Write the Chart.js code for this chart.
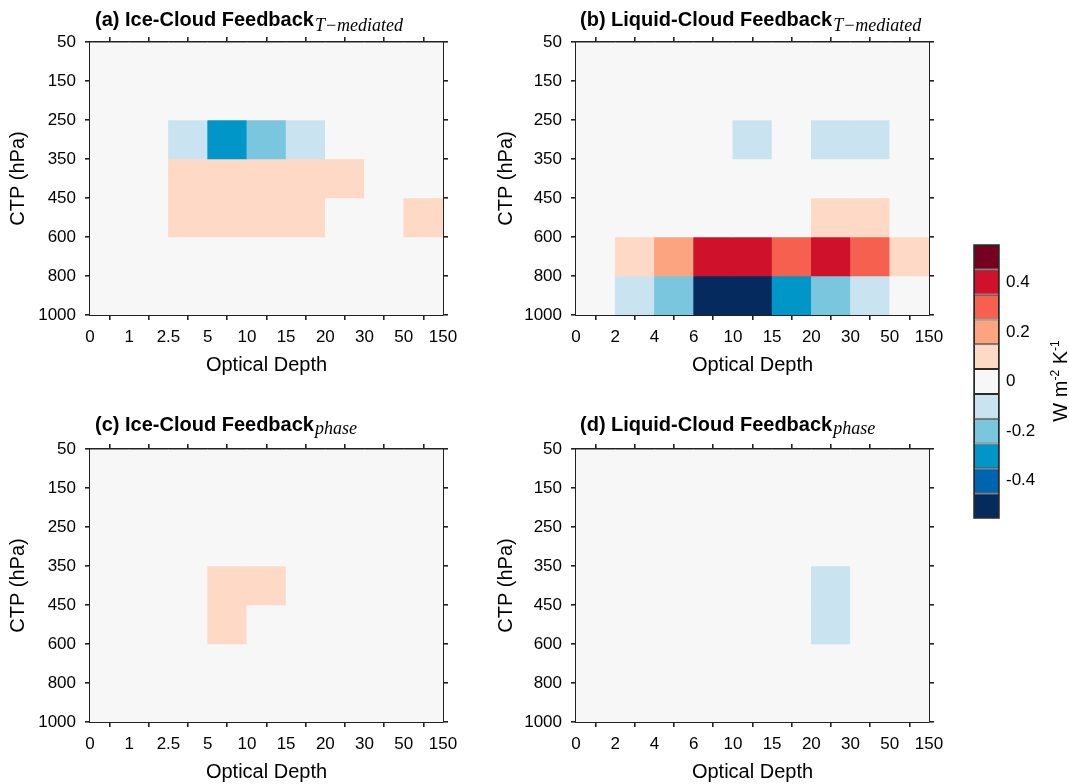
<!DOCTYPE html>
<html>
<head>
<meta charset="utf-8">
<script src="https://cdn.jsdelivr.net/npm/chart.js@4/dist/chart.umd.min.js"></script>
<style>
html,body{margin:0;padding:0;background:#fff;}
#wrap{position:relative;width:1069px;height:784px;overflow:hidden;background:#fff;}
canvas{position:absolute;display:block;}
</style>
</head>
<body>
<div id="wrap">
<canvas id="ca" width="460" height="390" style="left:0px;top:0px;width:460px;height:390px"></canvas>
<canvas id="cb" width="470" height="390" style="left:480px;top:0px;width:470px;height:390px"></canvas>
<canvas id="cc" width="460" height="384" style="left:0px;top:400px;width:460px;height:384px"></canvas>
<canvas id="cd" width="470" height="384" style="left:480px;top:400px;width:470px;height:384px"></canvas>
<canvas id="cbar" width="109" height="300" style="left:960px;top:230px;width:109px;height:300px"></canvas>
</div>
<script>
// ---------------- DATA ----------------
const pressureEdges = ['50','150','250','350','450','600','800','1000'];
const tauEdgesIce = ['0','1','2.5','5','10','15','20','30','50','150'];
const tauEdgesLiq = ['0','2','4','6','10','15','20','30','50','150'];

// rows: 50-150, 150-250, 250-350, 350-450, 450-600, 600-800, 800-1000 hPa
// columns: the 9 optical-depth bins
const iceTmediated = [
  [0,0,0,0,0,0,0,0,0],
  [0,0,0,0,0,0,0,0,0],
  [0,0,-0.1,-0.3,-0.2,-0.1,0,0,0],
  [0,0,0.1,0.1,0.1,0.1,0.1,0,0],
  [0,0,0.1,0.1,0.1,0.1,0,0,0.1],
  [0,0,0,0,0,0,0,0,0],
  [0,0,0,0,0,0,0,0,0]
];
const liqTmediated = [
  [0,0,0,0,0,0,0,0,0],
  [0,0,0,0,0,0,0,0,0],
  [0,0,0,0,-0.1,0,-0.1,-0.1,0],
  [0,0,0,0,0,0,0,0,0],
  [0,0,0,0,0,0,0.1,0.1,0],
  [0,0.1,0.2,0.4,0.4,0.3,0.4,0.3,0.1],
  [0,-0.1,-0.2,-0.5,-0.5,-0.3,-0.2,-0.1,0]
];
const icePhase = [
  [0,0,0,0,0,0,0,0,0],
  [0,0,0,0,0,0,0,0,0],
  [0,0,0,0,0,0,0,0,0],
  [0,0,0,0.1,0.1,0,0,0,0],
  [0,0,0,0.1,0,0,0,0,0],
  [0,0,0,0,0,0,0,0,0],
  [0,0,0,0,0,0,0,0,0]
];
const liqPhase = [
  [0,0,0,0,0,0,0,0,0],
  [0,0,0,0,0,0,0,0,0],
  [0,0,0,0,0,0,0,0,0],
  [0,0,0,0,0,0,-0.1,0,0],
  [0,0,0,0,0,0,-0.1,0,0],
  [0,0,0,0,0,0,0,0,0],
  [0,0,0,0,0,0,0,0,0]
];
const cbBinValues = [-0.5,-0.4,-0.3,-0.2,-0.1,0,0.1,0.2,0.3,0.4,0.5];
const cbTickValues = [-0.4,-0.2,0,0.2,0.4];
const cbTickLabels = ['-0.4','-0.2','0','0.2','0.4'];
const binColors = ['#052b5e','#0065ae','#0097c8','#7ac6df','#c9e4f0','#f7f7f7','#fedac6','#fca47f','#f5614e','#d0112b','#75001f'];

// ---------------- HELPERS ----------------
function colorFor(v){
  let i = Math.round(v*10) + 5;
  i = Math.max(0, Math.min(binColors.length-1, i));
  return binColors[i];
}
Chart.defaults.font.family = '"Liberation Sans", Arial, Helvetica, sans-serif';
Chart.defaults.color = '#000';
const axisColor = '#222222';

const titlePlugin = {
  id: 'panelTitle',
  afterDraw(chart, args, o){
    if(!o || !o.main) return;
    const ctx = chart.ctx;
    ctx.save();
    ctx.fillStyle = '#000';
    ctx.textAlign = 'left';
    ctx.textBaseline = 'alphabetic';
    ctx.font = 'bold 20px "Liberation Sans", Arial, sans-serif';
    ctx.fillText(o.main, o.x, o.base);
    const w = ctx.measureText(o.main).width;
    ctx.font = 'italic 18px "Liberation Serif", "Times New Roman", serif';
    ctx.fillText(o.sub, o.x + w + 1, o.subBase);
    ctx.restore();
  }
};

function gridOpts(){ return {drawOnChartArea:false, drawTicks:true, tickLength:5, color:axisColor, lineWidth:1.6}; }
function borderOpts(){ return {display:true, color:axisColor, width:2}; }
function noPad(s){ s.paddingLeft = 0; s.paddingRight = 0; s.paddingTop = 0; s.paddingBottom = 0; }

function makePanel(o){
  const datasets = o.data.map((row, r) => ({
    data: row.map((v, c) => ({x: c + 0.5, y: [r, r + 1]})),
    backgroundColor: row.map(colorFor),
    borderWidth: 0,
    barPercentage: 1,
    categoryPercentage: 1,
    grouped: false,
    xAxisID: 'x',
    yAxisID: 'y'
  }));
  return new Chart(document.getElementById(o.id), {
    type: 'bar',
    data: {datasets},
    plugins: [titlePlugin],
    options: {
      responsive: false,
      animation: false,
      events: [],
      layout: {padding: 0},
      plugins: {
        legend: {display:false},
        tooltip: {enabled:false},
        title: {display:false},
        panelTitle: {main:o.title, sub:o.sub, x:o.titleX, base:o.titleBase, subBase:o.subBase}
      },
      scales: {
        x: {
          type:'linear', position:'bottom', min:0, max:9, offset:false,
          ticks:{stepSize:1, autoSkip:false, maxRotation:0, minRotation:0, padding:7, color:'#000', font:{size:17},
                 callback:(v)=>o.xLabels[Math.round(v)]},
          grid:gridOpts(), border:borderOpts(),
          title:{display:true, text:'Optical Depth', color:'#000', font:{size:20}, padding:{top:0, bottom:o.xTitlePad}},
          afterFit:(s)=>{ s.height = o.bottomH; noPad(s); }
        },
        xTop: {
          type:'linear', position:'top', min:0, max:9, offset:false,
          ticks:{display:false, stepSize:1, autoSkip:false},
          grid:gridOpts(), border:borderOpts(),
          afterFit:(s)=>{ s.height = o.topH; noPad(s); }
        },
        y: {
          type:'linear', position:'left', min:0, max:7, reverse:true,
          ticks:{stepSize:1, autoSkip:false, padding:9, color:'#000', font:{size:17},
                 callback:(v)=>pressureEdges[Math.round(v)]},
          grid:gridOpts(), border:borderOpts(),
          title:{display:true, text:'CTP (hPa)', color:'#000', font:{size:20}, padding:{top:o.yTitlePad, bottom:0}},
          afterFit:(s)=>{ s.width = o.leftW; noPad(s); }
        },
        yRight: {
          type:'linear', position:'right', min:0, max:7, reverse:true,
          ticks:{display:false, stepSize:1, autoSkip:false},
          grid:gridOpts(), border:borderOpts(),
          afterFit:(s)=>{ s.width = o.rightW; noPad(s); }
        }
      }
    }
  });
}

makePanel({id:'ca', data:iceTmediated, xLabels:tauEdgesIce, title:'(a) Ice-Cloud Feedback', sub:'T\u2212mediated',
  titleX:95, titleBase:26, subBase:30.5, leftW:90, topH:42, rightW:17, bottomH:75, xTitlePad:13, yTitlePad:6});
makePanel({id:'cb', data:liqTmediated, xLabels:tauEdgesLiq, title:'(b) Liquid-Cloud Feedback', sub:'T\u2212mediated',
  titleX:100, titleBase:26, subBase:30.5, leftW:96, topH:42, rightW:21, bottomH:75, xTitlePad:13, yTitlePad:14});
makePanel({id:'cc', data:icePhase, xLabels:tauEdgesIce, title:'(c) Ice-Cloud Feedback', sub:'phase',
  titleX:95, titleBase:31, subBase:33.5, leftW:90, topH:49, rightW:17, bottomH:62, xTitlePad:0, yTitlePad:6});
makePanel({id:'cd', data:liqPhase, xLabels:tauEdgesLiq, title:'(d) Liquid-Cloud Feedback', sub:'phase',
  titleX:100, titleBase:31, subBase:33.5, leftW:96, topH:49, rightW:21, bottomH:62, xTitlePad:0, yTitlePad:14});

// ---------------- COLORBAR ----------------
const unitPlugin = {
  id: 'unitLabel',
  afterDraw(chart){
    const ctx = chart.ctx;
    const a = chart.chartArea;
    ctx.save();
    ctx.strokeStyle = '#2a2a2a';
    ctx.lineWidth = 1.5;
    ctx.strokeRect(a.left, a.top, a.right - a.left, a.bottom - a.top);
    ctx.translate(100, 151);
    ctx.rotate(-Math.PI/2);
    ctx.fillStyle = '#000';
    ctx.textBaseline = 'alphabetic';
    ctx.textAlign = 'left';
    const big = '20px "Liberation Sans", Arial, sans-serif';
    const small = '12px "Liberation Sans", Arial, sans-serif';
    const parts = [['W m', big, 0], ['-2', small, -8], [' K', big, 0], ['-1', small, -8]];
    let total = 0;
    parts.forEach(p => { ctx.font = p[1]; total += ctx.measureText(p[0]).width; });
    let x = -total/2;
    parts.forEach(p => { ctx.font = p[1]; ctx.fillText(p[0], x, 7 + p[2]); x += ctx.measureText(p[0]).width; });
    ctx.restore();
  }
};

new Chart(document.getElementById('cbar'), {
  type: 'bar',
  data: {
    labels: ['cb'],
    datasets: cbBinValues.map(v => ({
      data: [[v - 0.05, v + 0.05]],
      backgroundColor: colorFor(v),
      borderColor: '#2a2a2a',
      borderWidth: 1,
      borderSkipped: false,
      inflateAmount: 0,
      barPercentage: 1,
      categoryPercentage: 1,
      grouped: false
    }))
  },
  plugins: [unitPlugin],
  options: {
    responsive: false,
    animation: false,
    events: [],
    layout: {padding: {left:14, top:15, bottom:12, right:0}},
    plugins: {legend:{display:false}, tooltip:{enabled:false}},
    scales: {
      x: {display:false},
      y: {
        position:'right', min:-0.55, max:0.55,
        grid:{display:false, drawTicks:false},
        border:{display:false},
        ticks:{padding:7, color:'#000', font:{size:17}, callback:(v, i)=>cbTickLabels[i]},
        afterBuildTicks:(s)=>{ s.ticks = cbTickValues.map(v => ({value:v})); },
        afterFit:(s)=>{ s.width = 70; s.paddingTop = 0; s.paddingBottom = 0; }
      }
    }
  }
});
</script>
</body>
</html>
